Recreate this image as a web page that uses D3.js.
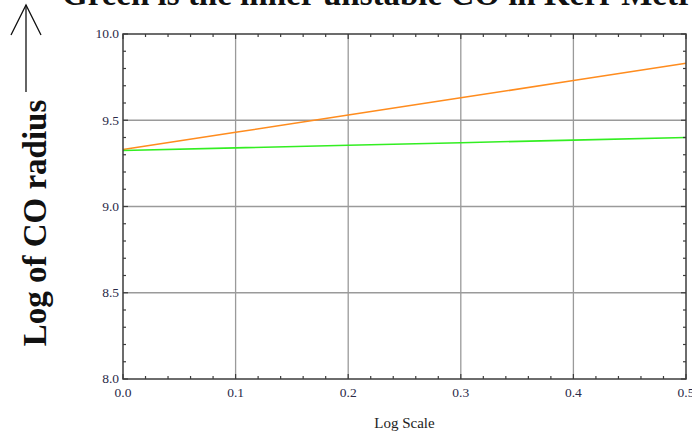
<!DOCTYPE html>
<html>
<head>
<meta charset="utf-8">
<script src="https://cdn.jsdelivr.net/npm/d3@7"></script>
<style>
    body { margin: 0; background: #fff; }
    svg { display: block; }
    .tick-label { font-family: "Liberation Serif", "DejaVu Serif", serif; font-size: 13.5px; fill: #2a2a48; }
</style>
</head>
<body>
<svg id="chart"></svg>
<script>
// Data
const xValues = [0.0, 0.1, 0.2, 0.3, 0.4, 0.5];
const outerRadius = [9.33, 9.43, 9.53, 9.63, 9.73, 9.83];   // orange
const innerRadius = [9.325, 9.34, 9.355, 9.37, 9.385, 9.40]; // green
const xTicks = [0.0, 0.1, 0.2, 0.3, 0.4, 0.5];
const yTicks = [8.0, 8.5, 9.0, 9.5, 10.0];

const width = 692, height = 435;
const margin = { top: 34, right: 6, bottom: 56, left: 123 };

const svg = d3.select('#chart')
    .attr('width', width)
    .attr('height', height);

const x = d3.scaleLinear().domain([0, 0.5]).range([margin.left, width - margin.right]);
const y = d3.scaleLinear().domain([8, 10]).range([height - margin.bottom, margin.top]);

const x0 = x.range()[0], x1 = x.range()[1];
const y0 = y.range()[0], y1 = y.range()[1];

// Grid lines at major ticks
const grid = svg.append('g').attr('stroke', '#9a9a9a').attr('stroke-width', 1.3);
grid.selectAll('.gx').data(xTicks.slice(1, -1)).join('line')
    .attr('x1', d => x(d)).attr('x2', d => x(d))
    .attr('y1', y1).attr('y2', y0);
grid.selectAll('.gy').data(yTicks.slice(1, -1)).join('line')
    .attr('y1', d => y(d)).attr('y2', d => y(d))
    .attr('x1', x0).attr('x2', x1);

// Lines
const line = d3.line().x((d, i) => x(xValues[i])).y(d => y(d));
svg.append('path').datum(outerRadius)
    .attr('fill', 'none').attr('stroke', '#ff8c1e').attr('stroke-width', 1.6)
    .attr('d', line);
svg.append('path').datum(innerRadius)
    .attr('fill', 'none').attr('stroke', '#33ee22').attr('stroke-width', 1.6)
    .attr('d', line);

// Frame
svg.append('rect')
    .attr('x', x0).attr('y', y1)
    .attr('width', x1 - x0).attr('height', y0 - y1)
    .attr('fill', 'none').attr('stroke', '#3c3c3c').attr('stroke-width', 1.5);

// Inward ticks on all four sides
const minorX = d3.range(0, 0.5001, 0.02);
const minorY = d3.range(8, 10.0001, 0.1);
const ticks = svg.append('g').attr('stroke', '#3c3c3c').attr('stroke-width', 1.2);
minorX.forEach(v => {
    const len = Math.abs(v * 10 - Math.round(v * 10)) < 1e-6 ? 5 : 3;
    ticks.append('line').attr('x1', x(v)).attr('x2', x(v)).attr('y1', y0).attr('y2', y0 - len);
    ticks.append('line').attr('x1', x(v)).attr('x2', x(v)).attr('y1', y1).attr('y2', y1 + len);
});
minorY.forEach(v => {
    const len = Math.abs(v * 2 - Math.round(v * 2)) < 1e-6 ? 5 : 3;
    ticks.append('line').attr('y1', y(v)).attr('y2', y(v)).attr('x1', x0).attr('x2', x0 + len);
    ticks.append('line').attr('y1', y(v)).attr('y2', y(v)).attr('x1', x1).attr('x2', x1 - len);
});

// Tick labels
svg.append('g').selectAll('text').data(xTicks).join('text')
    .attr('class', 'tick-label')
    .attr('x', d => x(d)).attr('y', y0 + 18)
    .attr('text-anchor', 'middle')
    .text(d => d.toFixed(1));
svg.append('g').selectAll('text').data(yTicks).join('text')
    .attr('class', 'tick-label')
    .attr('x', x0 - 4).attr('y', d => y(d))
    .attr('dy', '0.32em')
    .attr('text-anchor', 'end')
    .text(d => d.toFixed(1));

// Axis labels
svg.append('text')
    .attr('x', (x0 + x1) / 2).attr('y', 428)
    .attr('text-anchor', 'middle')
    .style('font-family', '"Liberation Serif", serif')
    .style('font-size', '15px')
    .attr('fill', '#222')
    .text('Log Scale');

svg.append('text')
    .attr('transform', 'translate(46,223) rotate(-90)')
    .attr('text-anchor', 'middle')
    .style('font-family', '"Liberation Serif", serif')
    .style('font-size', '33px')
    .style('font-weight', 'bold')
    .attr('fill', '#111')
    .text('Log of CO radius');

// Arrow above the y label
const arrow = svg.append('g').attr('stroke', '#111').attr('stroke-width', 1.3).attr('fill', 'none');
arrow.append('line').attr('x1', 26).attr('x2', 26).attr('y1', 92).attr('y2', 5);
arrow.append('polyline').attr('points', '11,35 26,5 41,35');

// Title (cut off at the top edge, as in the reference)
svg.append('text')
    .attr('x', 62).attr('y', 5)
    .style('font-family', '"Liberation Serif", serif')
    .style('font-size', '33px')
    .style('font-weight', 'bold')
    .attr('fill', '#111')
    .text('Green is the inner unstable CO in Kerr Metric');
</script>
</body>
</html>
